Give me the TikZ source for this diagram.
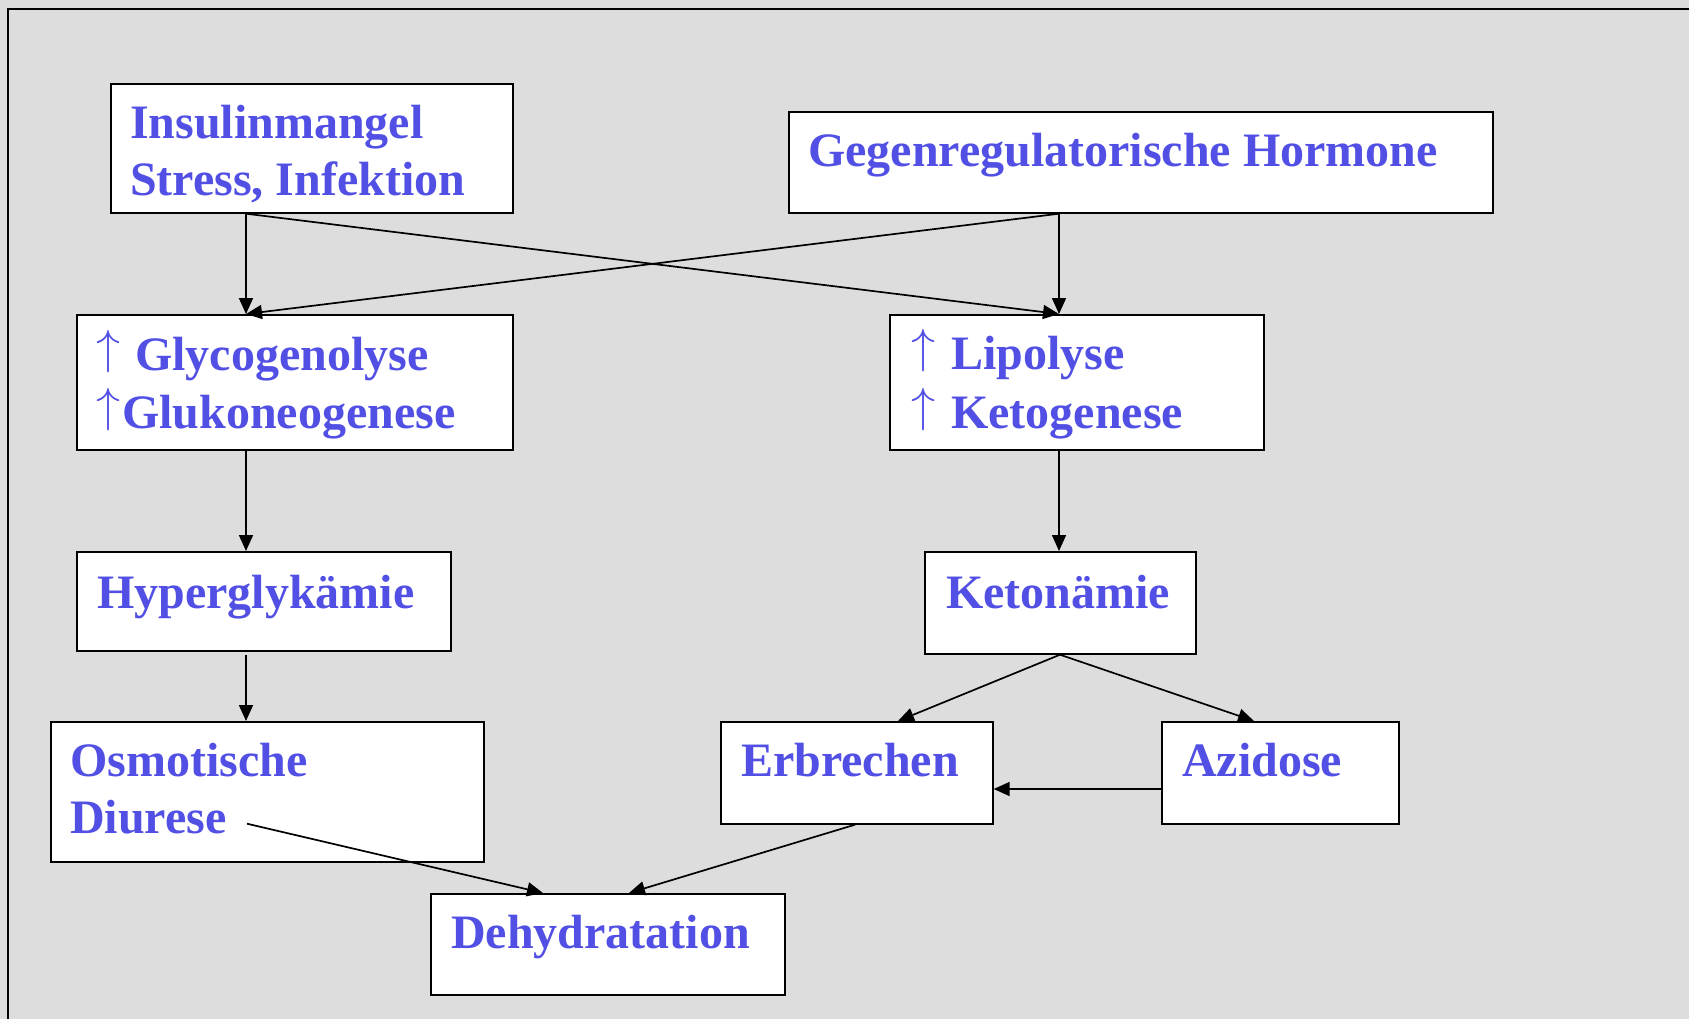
\RequirePackage{fix-cm}
\documentclass[tikz,border=0pt]{standalone}
\usepackage{fontspec}
\setmainfont{Liberation Serif}
\usetikzlibrary{arrows.meta}
\definecolor{dkablue}{RGB}{82,80,228}
\definecolor{dkagrey}{RGB}{221,221,221}
\newcommand\uparr{\raisebox{0.13em}{$\uparrow$}}
\tikzset{box/.style={draw,line width=1.7pt,fill=white,anchor=north west,inner sep=0pt},txt/.style={anchor=base west,inner sep=0pt,text=dkablue,font=\fontsize{48}{57}\selectfont\bfseries},arr/.style={line width=1.7pt,-{Triangle[length=16pt,width=14pt]}}}

\begin{document}
\begin{tikzpicture}[x=1pt,y=-1pt]
\fill[dkagrey] (0,0) rectangle (1689,1019);
\useasboundingbox (0,0) rectangle (1689,1019);
\draw[line width=1.5pt] (8,1019) -- (8,9) -- (1689,9);
% boxes
\node[box,minimum width=402pt,minimum height=129pt] (insulin) at (110,83) {};
\node[box,minimum width=704pt,minimum height=101pt] (gegen) at (788,111) {};
\node[box,minimum width=436pt,minimum height=135pt] (glyco) at (76,314) {};
\node[box,minimum width=374pt,minimum height=135pt] (lipo) at (889,314) {};
\node[box,minimum width=374pt,minimum height=99pt] (hyper) at (76,551) {};
\node[box,minimum width=271pt,minimum height=102pt] (keto) at (924,551) {};
\node[box,minimum width=433pt,minimum height=140pt] (osmo) at (50,721) {};
\node[box,minimum width=272pt,minimum height=102pt] (erbr) at (720,721) {};
\node[box,minimum width=237pt,minimum height=102pt] (azid) at (1161,721) {};
\node[box,minimum width=354pt,minimum height=101pt] (dehyd) at (430,893) {};
% texts
\node[txt] (insulin-a) at (130,139) {Insulinmangel};
\node[txt] (insulin-b) at (130,196) {Stress, Infektion};
\node[txt] (gegen-a) at (808,167) {Gegenregulatorische Hormone};
\node[txt] (glyco-a) at (96,370) {\uparr\ \kern3pt Glycogenolyse};
\node[txt] (glyco-b) at (96,428) {\uparr\kern2pt Glukoneogenese};
\node[txt] (lipo-a) at (911,369) {\uparr\ \kern4pt Lipolyse};
\node[txt] (lipo-b) at (911,428) {\uparr\ \kern4pt Ketogenese};
\node[txt] (hyper-a) at (97,608) {Hyperglykämie};
\node[txt] (keto-a) at (946,608) {Ketonämie};
\node[txt] (osmo-a) at (70,776) {Osmotische};
\node[txt] (osmo-b) at (70,833) {Diurese};
\node[txt] (erbr-a) at (741,776) {Erbrechen};
\node[txt] (azid-a) at (1182,776) {Azidose};
\node[txt] (dehyd-a) at (451,948) {Dehydratation};
% connectors
\draw[arr] ([xshift=136pt]insulin.south west) -- ([xshift=170pt]glyco.north west);
\draw[arr] ([xshift=136pt]insulin.south west) -- ([xshift=170pt]lipo.north west);
\draw[arr] ([xshift=271pt]gegen.south west) -- ([xshift=170pt]glyco.north west);
\draw[arr] ([xshift=271pt]gegen.south west) -- ([xshift=170pt]lipo.north west);
\draw[arr] ([xshift=170pt]glyco.south west) -- ([xshift=170pt]hyper.north west);
\draw[arr] ([xshift=170pt]lipo.south west) -- ([xshift=135pt]keto.north west);
\draw[arr] ([xshift=170pt,yshift=-3pt]hyper.south west) -- ([xshift=196pt]osmo.north west);
\draw[arr] ([xshift=136pt]keto.south west) -- ([xshift=178pt]erbr.north west);
\draw[arr] ([xshift=136pt]keto.south west) -- ([xshift=93pt]azid.north west);
\draw[arr] ([yshift=-68pt]azid.north west) -- ([yshift=-68pt]erbr.north east);
\draw[arr] ([xshift=135pt]erbr.south west) -- ([xshift=199pt]dehyd.north west);
\draw[arr] ([xshift=197pt,yshift=39pt]osmo.south west) -- ([xshift=113pt]dehyd.north west);
\end{tikzpicture}
\end{document}
